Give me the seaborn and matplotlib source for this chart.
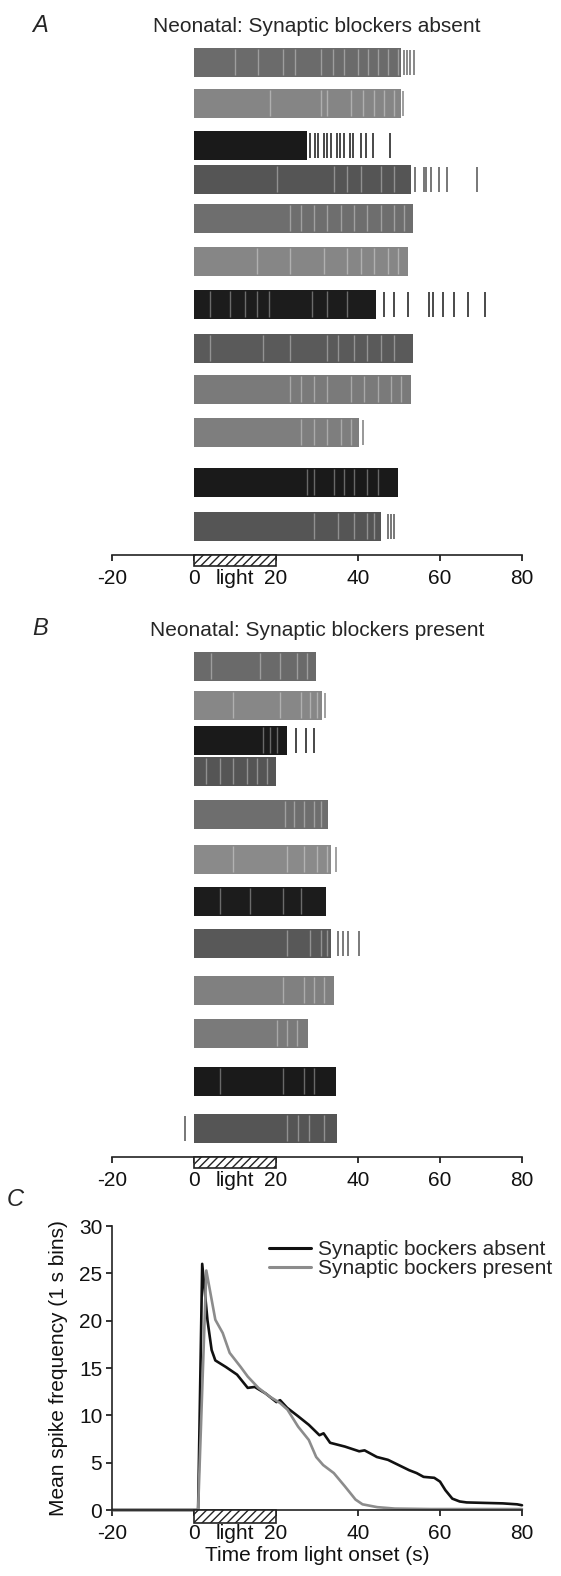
import matplotlib
matplotlib.use("Agg")
import matplotlib.pyplot as plt
import matplotlib.transforms as mtransforms
from matplotlib.patches import Rectangle
import seaborn as sns
import pandas as pd

# ---- panel A: synaptic blockers absent (12 cells) ----
# vertical offset of each trace (trace units, above the time axis)
rows_a_offset = [49.3, 45.2, 41.0, 37.6, 33.7, 29.4, 25.1, 20.7, 16.6, 12.3, 7.3, 2.9]
# end of the dense (continuous) firing, s from light onset
rows_a_dense_end = [50.5, 50.5, 27.5, 53.0, 53.5, 52.2, 44.4, 53.5, 53.0, 40.2, 49.7, 45.5]
# isolated spikes after the dense part
rows_a_tail = [
    [51.2, 52.0, 52.8, 53.6],
    [51.0],
    [28.3, 29.5, 30.2, 31.6, 32.4, 33.5, 34.8, 35.5, 36.6, 38.0, 38.8, 40.7, 42.0, 43.6, 47.9],
    [53.8, 56.0, 56.7, 57.8, 59.8, 61.6, 69.0],
    [],
    [],
    [46.3, 48.8, 52.2, 57.2, 58.4, 60.8, 63.3, 66.9, 70.9],
    [],
    [],
    [41.3],
    [],
    [47.2, 48.0, 48.9],
]
# short pauses inside the dense firing
rows_a_gaps = [
    [10, 15.6, 21.8, 24.7, 30.9, 33.8, 36.5, 40, 42.4, 44.9, 47.3, 49.8],
    [18.6, 30.9, 32.5, 38.2, 41.1, 44, 46.4, 48.9],
    [],
    [20.2, 34.1, 37.4, 40.7, 45.6, 48.9],
    [23.5, 26, 29.2, 32.5, 35.8, 39, 42.3, 45.6, 48.9, 51.3],
    [15.3, 23.5, 31.7, 37.4, 40.7, 44, 47.2, 49.7],
    [3.8, 8.7, 12.4, 15.3, 18.2, 28.8, 32.5, 37.4],
    [3.8, 16.9, 23.5, 32.5, 35, 39, 42.3, 45.6, 48.9],
    [23.5, 26, 29.2, 32.5, 38.2, 41.5, 44.8, 48.1, 50.5],
    [26, 29.2, 32.5, 35.8, 38.2],
    [27.6, 29.2, 34.1, 36.6, 39, 42.3, 44.8],
    [29.2, 35, 39, 42.3, 44],
]
rows_a_color = ["#6b6b6b", "#858585", "#1a1a1a", "#555555", "#6e6e6e", "#868686",
                "#1c1c1c", "#5a5a5a", "#7a7a7a", "#7e7e7e", "#1a1a1a", "#555555"]

# ---- panel B: synaptic blockers present (12 cells) ----
rows_b_offset = [49.1, 45.2, 41.7, 38.6, 34.3, 29.8, 25.6, 21.4, 16.7, 12.4, 7.6, 2.9]
rows_b_dense_end = [29.7, 31.3, 22.8, 19.9, 32.7, 33.5, 32.2, 33.4, 34.2, 27.7, 34.6, 34.8]
rows_b_tail = [
    [],
    [32.0],
    [24.8, 27.3, 29.3],
    [],
    [],
    [34.6],
    [],
    [35.0, 36.3, 37.5, 40.3],
    [],
    [],
    [],
    [-2.3],
]
rows_b_gaps = [
    [4.2, 16.1, 21, 25.1, 27.6],
    [9.6, 21, 26, 28.4, 30],
    [16.9, 18.6, 20.2],
    [3, 6.3, 9.6, 12.9, 15.3, 17.8],
    [22.3, 24.3, 26.8, 29.2, 30.9],
    [9.6, 22.7, 26.8, 30, 32.5],
    [6.3, 13.7, 21.8, 26],
    [22.7, 28.4, 30.9, 32.5],
    [21.8, 26.8, 29.2, 31.7],
    [20.2, 22.7, 25.1],
    [6.3, 21.8, 26.8, 29.2],
    [22.7, 25.4, 28.1, 31.6],
]
rows_b_color = ["#6a6a6a", "#878787", "#1a1a1a", "#555555", "#6e6e6e", "#8a8a8a",
                "#1c1c1c", "#585858", "#808080", "#7a7a7a", "#1a1a1a", "#555555"]

trace_height = 2.9

# ---- panel C: mean spike frequency (1 s bins) ----
absent_t = [-20, -10, 0, 1, 2, 3.3, 4.3, 5.2, 7.8, 10.5, 13.1, 14.8, 17.5, 20.1, 21, 22.7,
            25.4, 28, 30.6, 31.6, 33.2, 36.8, 40.3, 41.6, 44.6, 47.3, 49.9, 52.5, 54.3,
            56, 58.6, 60, 61.3, 63, 64.8, 66.5, 70.8, 75.3, 78.8, 80]
absent_f = [0, 0, 0, 0, 26, 20, 16.9, 15.8, 15.1, 14.3, 12.9, 13, 12.3, 11.4, 11.6, 10.8,
            9.9, 9.0, 7.9, 8.1, 7.1, 6.7, 6.2, 6.3, 5.6, 5.3, 4.75, 4.2, 3.9,
            3.5, 3.4, 3.0, 2.1, 1.2, 0.9, 0.8, 0.75, 0.7, 0.6, 0.5]
present_t = [-20, -10, 0, 1, 3, 5.2, 7, 8.7, 11.4, 13.1, 15.7, 18.4, 21, 22.8, 25.4, 28,
             29.8, 31.5, 34.1, 36.8, 39.4, 41.1, 44.7, 49, 57.7, 66.5, 80]
present_f = [0, 0, 0, 0, 25.3, 20.1, 18.7, 16.6, 15.1, 14.1, 12.9, 12, 11.3, 10.6, 8.8, 7.4,
             5.6, 4.75, 3.9, 2.5, 1.1, 0.6, 0.3, 0.15, 0.1, 0.1, 0.1]

xtick_vals = [-20, 0, 10, 20, 40, 60, 80]
xtick_text = ["-20", "0", "light", "20", "40", "60", "80"]
light_on, light_off = 0, 20

sns.set_theme(style="white")
plt.rcParams["font.family"] = ["Liberation Sans", "DejaVu Sans"]
plt.rcParams["hatch.linewidth"] = 1.0

W, H = 561, 1576
fig = plt.figure(figsize=(W / 100, H / 100), dpi=100)


def light_box(ax, h):
    trans = mtransforms.blended_transform_factory(ax.transData, ax.transAxes)
    ax.add_patch(Rectangle((light_on, -h), light_off - light_on, h, transform=trans,
                           facecolor="white", edgecolor="#222222", hatch="////",
                           lw=1.2, clip_on=False, zorder=5))


def time_axis(ax):
    ax.set_xlim(-20, 80)
    ax.set_xticks(xtick_vals)
    ax.set_xticklabels(xtick_text)
    ax.tick_params(axis="x", direction="out", length=4, width=1.2, pad=6,
                   labelsize=15, colors="#111111", bottom=True)
    ax.xaxis.get_major_ticks()[2].tick1line.set_visible(False)


def raster(ax, offsets, ends, tails, gaps, colors):
    ax.barh(offsets, ends, left=0, height=trace_height, color=colors, linewidth=0)
    for y, sp, gp, c in zip(offsets, tails, gaps, colors):
        lo, hi = y - trace_height / 2, y + trace_height / 2
        if gp:
            ax.vlines(gp, lo + 0.15, hi - 0.15, color="white", lw=1.0, alpha=0.35)
        if sp:
            ax.vlines(sp, lo + 0.2, hi - 0.2, color=c, lw=1.4, alpha=0.8)
    ax.set_ylim(0, 51.5)
    ax.set_yticks([])
    time_axis(ax)
    sns.despine(ax=ax, left=True)
    ax.spines["bottom"].set_linewidth(1.2)
    ax.spines["bottom"].set_color("#222222")
    light_box(ax, 11 / 515)


# panel A
ax_a = fig.add_axes([112 / W, 1 - 555 / H, 410 / W, 515 / H])
raster(ax_a, rows_a_offset, rows_a_dense_end, rows_a_tail, rows_a_gaps, rows_a_color)
fig.text(317 / W, 1 - 27 / H, "Neonatal: Synaptic blockers absent", ha="center",
         va="center", fontsize=15)
fig.text(40 / W, 1 - 25 / H, "A", ha="center", va="center", fontsize=17, style="italic")

# panel B
ax_b = fig.add_axes([112 / W, 1 - 1157 / H, 410 / W, 515 / H])
raster(ax_b, rows_b_offset, rows_b_dense_end, rows_b_tail, rows_b_gaps, rows_b_color)
fig.text(317 / W, 1 - 631 / H, "Neonatal: Synaptic blockers present", ha="center",
         va="center", fontsize=15)
fig.text(40 / W, 1 - 629 / H, "B", ha="center", va="center", fontsize=17, style="italic")

# panel C
ax_c = fig.add_axes([112 / W, 1 - 1510 / H, 410 / W, 284 / H])
df = pd.concat([
    pd.DataFrame({"t": absent_t, "f": absent_f, "cond": "Synaptic bockers absent"}),
    pd.DataFrame({"t": present_t, "f": present_f, "cond": "Synaptic bockers present"}),
])
sns.lineplot(data=df, x="t", y="f", hue="cond", ax=ax_c,
             palette={"Synaptic bockers absent": "#111111",
                      "Synaptic bockers present": "#8c8c8c"},
             linewidth=1.9, sort=False, estimator=None, clip_on=False)
ax_c.set_ylim(0, 30)
ax_c.set_yticks([0, 5, 10, 15, 20, 25, 30])
time_axis(ax_c)
ax_c.tick_params(axis="y", direction="out", length=4, width=1.2, pad=3,
                 labelsize=15, colors="#111111", left=True)
sns.despine(ax=ax_c)
for s in ["left", "bottom"]:
    ax_c.spines[s].set_linewidth(1.2)
    ax_c.spines[s].set_color("#222222")
ax_c.set_xlabel("Time from light onset (s)", fontsize=15, labelpad=2, color="#111111")
ax_c.set_ylabel("Mean spike frequency (1 s bins)", fontsize=15, labelpad=8, color="#111111")
light_box(ax_c, 13 / 284)
leg = ax_c.legend(loc="upper left", bbox_to_anchor=(269 / W, 1 - 1240 / H),
                  bbox_transform=fig.transFigure, frameon=False, fontsize=15,
                  handlelength=2.0, handletextpad=0.35, labelspacing=0.0,
                  borderpad=0, borderaxespad=0)
for line in leg.get_lines():
    line.set_linewidth(2.2)
fig.text(15 / W, 1 - 1200 / H, "C", ha="center", va="center", fontsize=17, style="italic")

fig.savefig("out.png", dpi=100)
